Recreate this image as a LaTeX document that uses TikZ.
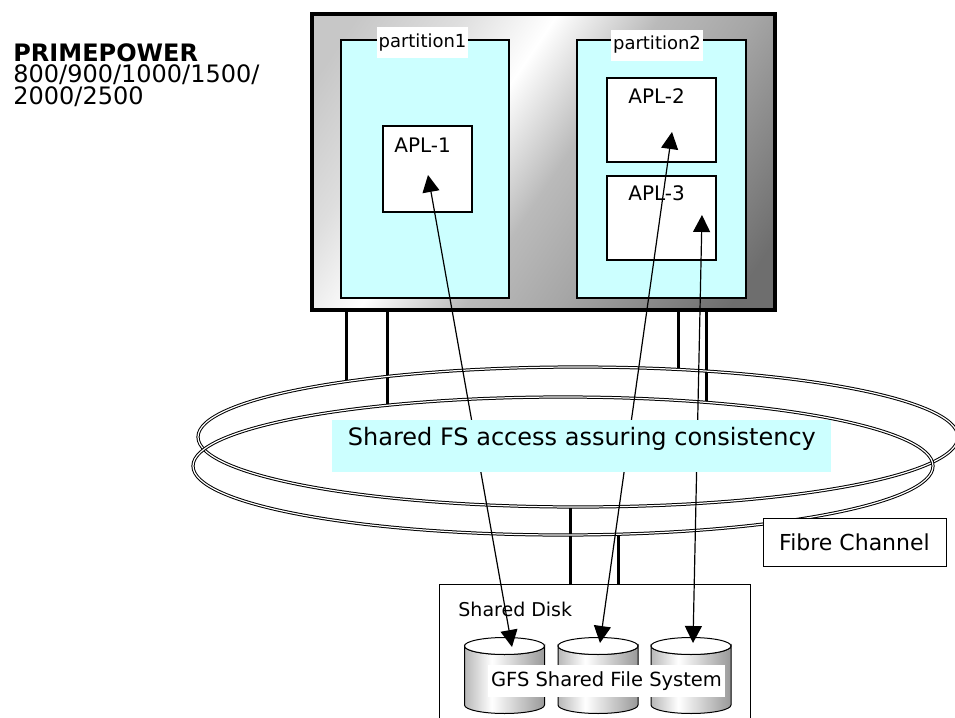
\documentclass[tikz,border=0pt]{standalone}
\usepackage{fontspec}
\setmainfont{DejaVu Sans}
\usetikzlibrary{arrows.meta,positioning,calc}
\definecolor{partcyan}{RGB}{204,255,255}
\pgfdeclarehorizontalshading{boxshade}{100bp}{color(0bp)=(black!22); color(20bp)=(black!22); color(31bp)=(black!13); color(41bp)=(white); color(52bp)=(black!27); color(62bp)=(black!35); color(80bp)=(black!57); color(100bp)=(black!57)}
\pgfdeclarehorizontalshading{drumshade}{100bp}{color(0bp)=(black!28); color(25bp)=(black!28); color(42bp)=(white); color(75bp)=(black!40); color(100bp)=(black!40)}

\begin{document}
\begin{tikzpicture}[x=0.5pt,y=-0.5pt,font=\fontsize{10}{12}\selectfont,
  server/.style={draw,line width=1.6pt,shade,shading=boxshade,shading angle=-34,inner sep=0pt,minimum width=231.5pt,minimum height=148pt},
  part/.style={draw,line width=0.8pt,fill=partcyan,inner sep=0pt,minimum width=84pt,minimum height=129pt},
  parttag/.style={fill=white,inner sep=0pt,minimum width=45.5pt,minimum height=15.5pt,font=\fontsize{9}{11}\selectfont},
  apl/.style={draw,line width=0.8pt,fill=white,inner sep=0pt},
  apltext/.style={anchor=base west,inner sep=0pt},
  leg/.style={line width=1.5pt},
  ring/.style={line width=0.5pt,double=white,double distance=0.6pt},
  access/.style={line width=0.6pt,arrows={Triangle[length=8.5pt,width=8.5pt]-Triangle[length=8.5pt,width=8.5pt]}},
  drum/.style={draw,line width=0.5pt,shading=drumshade}]
	\useasboundingbox (0,0) rectangle (955,718);
	\clip (0,0) rectangle (955,718);
	\node[anchor=north west,align=left,inner sep=0pt,font=\fontsize{12}{10.75}\selectfont] (model) at (13,43) {\textbf{PRIMEPOWER}\\800/900/1000/1500/\\2000/2500};
	% server
	\node[server] (server) at (543.5,162) {};
	\node[part] (part1) at (425,169) {};
	\node[part,minimum width=84.5pt] (part2) at (661.5,169) {};
	\node[parttag] (tag1) at (422.5,42.5) {partition1};
	\node[parttag,minimum width=46pt] (tag2) at (657,45) {partition2};
	\node[apl,minimum width=44.5pt,minimum height=43pt] (apl1) at (427.5,169) {};
	\node[apl,minimum width=54.5pt,minimum height=42pt] (apl2) at (661.5,120) {};
	\node[apl,minimum width=54.5pt,minimum height=42pt] (apl3) at (661.5,218) {};
	\node[apltext] (apl1name) at (394,152) {APL-1};
	\node[apltext] (apl2name) at (628,103) {APL-2};
	\node[apltext] (apl3name) at (628,200) {APL-3};
	% fibre channel
	\coordinate (la) at (346,381.6);
	\coordinate (lb) at (387,405.3);
	\coordinate (lc) at (678,369.5);
	\coordinate (ld) at (706,402.4);
	\coordinate (le) at (570,507);
	\coordinate (lf) at (618,534.2);
	\node[draw,line width=0.5pt,fill=white,inner sep=0pt,minimum width=155.5pt,minimum height=76pt] (disk) at (594.5,660) {};
	\draw[leg] (server.south -| la) -- (la);
	\draw[leg] (server.south -| lb) -- (lb);
	\draw[leg] (server.south -| lc) -- (lc);
	\draw[leg] (server.south -| ld) -- (ld);
	\draw[leg] (le) -- (le |- disk.north);
	\draw[leg] (lf) -- (lf |- disk.north);
	\draw[ring] (578,437) ellipse [x radius=380,y radius=70];
	\draw[ring] (563,466) ellipse [x radius=370,y radius=69];
	% shared disk
	\node[apltext,font=\fontsize{9.5}{11}\selectfont] (diskname) at (458,616) {Shared Disk};
	\foreach \cx in {504.5,598,691} {
		\shadedraw[drum] (\cx-40,646) -- (\cx-40,705) arc[start angle=180,end angle=0,x radius=40,y radius=8.5] -- (\cx+40,646) arc[start angle=0,end angle=180,x radius=40,y radius=8.5] -- cycle;
		\draw[line width=0.5pt,fill=white] (\cx,646) ellipse [x radius=40,y radius=8.5];
	}
	\node[fill=white,inner sep=0pt,minimum width=118.5pt,minimum height=16pt,font=\fontsize{9.75}{11}\selectfont] (gfs) at (606.5,681) {GFS Shared File System};
	% access paths
	\coordinate (t1) at (428,175);
	\coordinate (b1) at (512,647);
	\coordinate (t2) at (672,132);
	\coordinate (b2) at (600,643);
	\coordinate (t3) at (702,215);
	\coordinate (b3) at (693,643);
	\draw[access] (b1) -- (t1);
	\draw[access] (b2) -- (t2);
	\draw[access] (b3) -- (t3);
	\node[anchor=north west,fill=partcyan,inner xsep=0pt,inner ysep=3pt,minimum width=249.5pt,text height=9.5pt,text depth=10.5pt,font=\fontsize{12}{14}\selectfont] (fsbox) at (332,420) {Shared FS access assuring consistency};
	\node[draw,line width=0.5pt,fill=white,inner sep=0pt,minimum width=91.5pt,minimum height=24pt,font=\fontsize{11}{13}\selectfont] (fcbox) at (854.5,542) {Fibre Channel};
\end{tikzpicture}
\end{document}
